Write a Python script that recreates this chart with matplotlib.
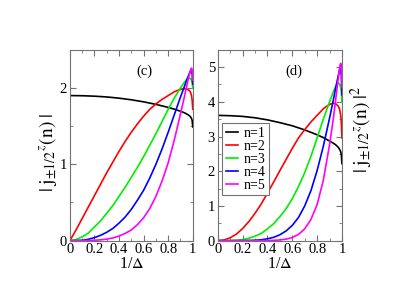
import numpy as np
import matplotlib
matplotlib.use("Agg")
import matplotlib.pyplot as plt
from matplotlib.ticker import MultipleLocator, FuncFormatter

plt.rcParams['font.family'] = ['Liberation Serif', 'DejaVu Serif']
plt.rcParams['mathtext.fontset'] = 'stix'

labels = ["n=1", "n=2", "n=3", "n=4", "n=5"]
colors = ["black", "red", "#00ee00", "blue", "magenta"]

# n=1
x1 = [0, 0.1, 0.2, 0.3, 0.4, 0.5, 0.6, 0.7, 0.8, 0.85, 0.9, 0.93, 0.95, 0.97, 0.98, 0.99, 0.995, 1.0]
c1 = [1.90, 1.898, 1.892, 1.882, 1.866, 1.845, 1.818, 1.785, 1.745, 1.722, 1.695, 1.676, 1.66,
      1.64, 1.625, 1.60, 1.575, 1.49]
d1 = [3.61, 3.60, 3.58, 3.54, 3.48, 3.40, 3.31, 3.19, 3.05, 2.97, 2.87, 2.81, 2.76, 2.69, 2.64,
      2.56, 2.48, 2.22]
# n=2
x2 = [0, 0.05, 0.1, 0.15, 0.2, 0.25, 0.3, 0.35, 0.4, 0.45, 0.5, 0.55, 0.6, 0.65, 0.7, 0.75, 0.8,
      0.85, 0.88, 0.91, 0.93, 0.95, 0.97, 0.98, 0.99, 0.995, 1.0]
c2 = [0, 0.14, 0.29, 0.44, 0.59, 0.74, 0.89, 1.03, 1.17, 1.30, 1.42, 1.53, 1.63, 1.72, 1.79, 1.85,
      1.90, 1.95, 1.97, 1.985, 1.99, 1.985, 1.97, 1.95, 1.9, 1.84, 1.72]
d2 = [0, 0.02, 0.084, 0.19, 0.35, 0.55, 0.79, 1.06, 1.37, 1.69, 2.02, 2.34, 2.66, 2.96, 3.20, 3.42,
      3.61, 3.80, 3.88, 3.94, 3.96, 3.94, 3.88, 3.80, 3.61, 3.39, 2.96]
# n=3
x3 = [0, 0.05, 0.1, 0.15, 0.2, 0.25, 0.3, 0.35, 0.4, 0.45, 0.5, 0.55, 0.6, 0.65, 0.7, 0.75, 0.8,
      0.85, 0.9, 0.93, 0.95, 0.97, 0.98, 0.99, 0.995, 1.0]
c3 = [0, 0.013, 0.05, 0.1, 0.18, 0.26, 0.36, 0.46, 0.58, 0.70, 0.83, 0.96, 1.1, 1.25, 1.4, 1.56,
      1.72, 1.87, 2.0, 2.07, 2.11, 2.13, 2.125, 2.1, 2.07, 2.0]
d3 = [0, 0.0002, 0.0025, 0.01, 0.032, 0.068, 0.13, 0.21, 0.34, 0.49, 0.69, 0.92, 1.21, 1.56, 1.96,
      2.43, 2.96, 3.50, 4.0, 4.28, 4.45, 4.54, 4.52, 4.41, 4.28, 4.0]
# n=4
x4 = [0, 0.05, 0.1, 0.15, 0.2, 0.25, 0.3, 0.35, 0.4, 0.45, 0.5, 0.55, 0.6, 0.65, 0.7, 0.75, 0.8,
      0.85, 0.9, 0.93, 0.95, 0.97, 0.98, 0.985, 0.99, 0.995, 1.0]
c4 = [0, 0.001, 0.005, 0.018, 0.04, 0.07, 0.11, 0.16, 0.23, 0.31, 0.41, 0.53, 0.66, 0.82, 1.0, 1.2,
      1.42, 1.65, 1.88, 2.01, 2.1, 2.18, 2.215, 2.23, 2.22, 2.18, 2.05]
d4 = [0, 0, 0, 0.0003, 0.0016, 0.005, 0.012, 0.026, 0.053, 0.096, 0.17, 0.28, 0.44, 0.67, 1.0,
      1.44, 2.02, 2.72, 3.53, 4.04, 4.41, 4.75, 4.91, 4.97, 4.93, 4.75, 4.2]
# n=5
x5 = [0, 0.1, 0.2, 0.25, 0.3, 0.35, 0.4, 0.45, 0.5, 0.55, 0.6, 0.65, 0.7, 0.75, 0.8, 0.85, 0.9,
      0.93, 0.95, 0.97, 0.98, 0.985, 0.99, 0.995, 1.0]
c5 = [0, 0.0, 0.005, 0.011, 0.02, 0.036, 0.06, 0.095, 0.14, 0.21, 0.3, 0.42, 0.58, 0.78, 1.02,
      1.32, 1.66, 1.87, 2.02, 2.16, 2.22, 2.25, 2.26, 2.24, 2.1]
d5 = [0, 0, 0, 0.0001, 0.0004, 0.0013, 0.0036, 0.009, 0.02, 0.044, 0.09, 0.18, 0.34, 0.61, 1.04,
      1.74, 2.76, 3.50, 4.08, 4.67, 4.93, 5.06, 5.11, 5.02, 4.41]

xs = [x1, x2, x3, x4, x5]
left_vals = [c1, c2, c3, c4, c5]
right_vals = [d1, d2, d3, d4, d5]

fig = plt.figure(figsize=(4.11, 2.91), dpi=100)
axc = fig.add_axes([0.170, 0.173, 0.299, 0.656])
axd = fig.add_axes([0.530, 0.173, 0.302, 0.656])

def fmt(v, pos):
    if abs(v - round(v)) < 1e-9:
        return "%d" % round(v)
    return ("%.1f" % v)

for ax in (axc, axd):
    ax.set_xlim(0, 1)
    ax.xaxis.set_major_locator(MultipleLocator(0.2))
    ax.xaxis.set_minor_locator(MultipleLocator(0.1))
    ax.yaxis.set_major_locator(MultipleLocator(1))
    ax.yaxis.set_minor_locator(MultipleLocator(0.5))
    ax.xaxis.set_major_formatter(FuncFormatter(fmt))
    ax.tick_params(which='both', direction='in', top=True, right=True,
                   labelsize=10.5, color='0.45', pad=2)
    ax.tick_params(which='major', length=4)
    ax.tick_params(which='minor', length=2)
    for s in ax.spines.values():
        s.set_color('0.45')
        s.set_linewidth(0.8)
    ax.set_xlabel(r'1/$\Delta$', fontsize=11.5, labelpad=0)

for x, y, c, lab in zip(xs, left_vals, colors, labels):
    axc.plot(x, y, color=c, lw=1.2, label=lab)
for x, y, c, lab in zip(xs, right_vals, colors, labels):
    axd.plot(x, y, color=c, lw=1.2, label=lab)

axc.set_ylim(0, 2.5)
axd.set_ylim(0, 5.5)

axc.set_ylabel(r'$|\;\mathrm{j}_{\pm 1/2}{}^{z}(\mathrm{n})\;|$', fontsize=14)
axc.yaxis.set_label_coords(-0.085, 0.46)
axd.yaxis.set_label_position('right')
axd.set_ylabel(r'$|\;\mathrm{j}_{\pm 1/2}{}^{z}(\mathrm{n})\;|^{2}$', fontsize=14, rotation=90)
axd.yaxis.set_label_coords(1.05, 0.585)

axc.text(0.61, 0.89, '(c)', transform=axc.transAxes, ha='center', va='center', fontsize=10.5)
axd.text(0.61, 0.89, '(d)', transform=axd.transAxes, ha='center', va='center', fontsize=10.5)

leg = axd.legend(loc='upper left', bbox_to_anchor=(0.037, 0.616), fontsize=10,
                 frameon=True, fancybox=False, edgecolor='0.45', framealpha=1,
                 handlelength=0.9, handletextpad=0.4, labelspacing=0.0,
                 borderpad=0.25, borderaxespad=0)
leg.get_frame().set_linewidth(0.8)

fig.savefig("out.png", dpi=100)
